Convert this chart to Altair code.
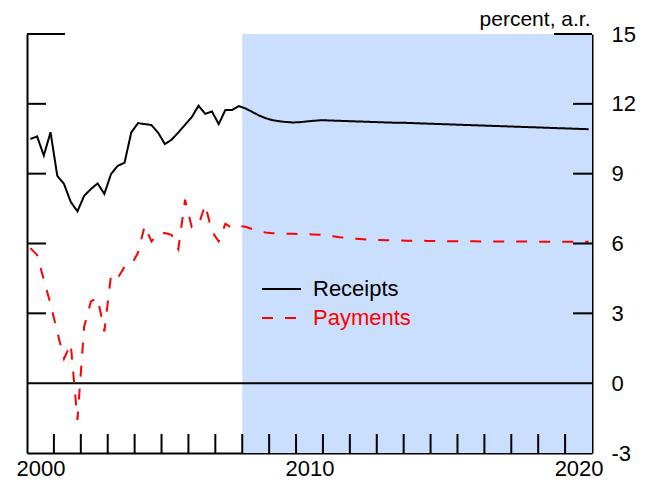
import altair as alt
import pandas as pd

# ---------------- data ----------------
years = list(range(2000, 2021))

receipts_hist = [10.49, 10.60, 9.78, 10.78, 8.91, 8.56, 7.79, 7.38,
                 8.05, 8.34, 8.58, 8.13, 8.99, 9.34, 9.47, 10.77,
                 11.17, 11.13, 11.09, 10.76, 10.27, 10.46, 10.77, 11.10,
                 11.43, 11.92, 11.57, 11.67, 11.13, 11.74, 11.74, 11.90]
receipts_proj = [11.80, 11.65, 11.50, 11.38, 11.30, 11.25, 11.22, 11.20,
                 11.21, 11.24, 11.27, 11.29, 11.29, 11.28, 11.27, 11.26,
                 11.25, 11.24, 11.23, 11.22, 11.21, 11.20, 11.19, 11.19,
                 11.18, 11.17, 11.16, 11.15, 11.14, 11.13, 11.12, 11.11,
                 11.10, 11.09, 11.08, 11.07, 11.06, 11.05, 11.04, 11.03,
                 11.02, 11.01, 11.00, 10.99, 10.98, 10.97, 10.96, 10.95,
                 10.94, 10.93, 10.92, 10.91]

payments_hist = [5.80, 5.51, 4.45, 3.40, 2.20, 1.05, 1.69, -1.58,
                 2.43, 3.51, 3.66, 2.22, 4.65, 4.52, 5.00, 5.08,
                 5.60, 6.76, 6.09, 6.42, 6.45, 6.37, 5.76, 7.88,
                 6.70, 6.80, 7.66, 6.51, 6.09, 6.85, 6.66, 6.75]
payments_proj = [6.72, 6.62, 6.53, 6.47, 6.44, 6.43, 6.42, 6.42,
                 6.41, 6.40, 6.39, 6.38, 6.35, 6.31, 6.27, 6.24,
                 6.21, 6.19, 6.17, 6.16, 6.15, 6.14, 6.13, 6.13,
                 6.12, 6.12, 6.12, 6.11, 6.11, 6.11, 6.10, 6.10,
                 6.10, 6.10, 6.10, 6.09, 6.09, 6.09, 6.09, 6.09,
                 6.09, 6.09, 6.08, 6.08, 6.08, 6.08, 6.08, 6.08,
                 6.08, 6.07, 6.07, 6.07]

series_names = ["Receipts", "Payments"]
series_colors = ["#000000", "#ff0000"]
series_dash = [[1, 0], [11, 12]]

proj_start = [2008.0]
proj_end = [2021.0]
x_domain = [2000, 2021]
y_domain = [-3, 15]
x_label_values = [2000, 2010, 2020]
x_minor_ticks = list(range(2001, 2021))
y_label_values = [-3, 0, 3, 6, 9, 12, 15]
y_inner_ticks = [3, 6, 9, 12]
y_top_tick = [15]
zero_line = [0]

# ---------------- tables ----------------
quarters = [y + (q - 0.5) / 4 for y in years for q in range(1, 5)]
receipts = receipts_hist + receipts_proj
payments = payments_hist + payments_proj
df = pd.DataFrame({
    "t": quarters * 2,
    "value": receipts + payments,
    "series": ["Receipts"] * len(quarters) + ["Payments"] * len(quarters),
})
shade_df = pd.DataFrame({"t": proj_start, "e": proj_end})
xt_df = pd.DataFrame({"t": x_minor_ticks})
yt_df = pd.DataFrame({"v": y_inner_ticks})
ytop_df = pd.DataFrame({"v": y_top_tick})
zero_df = pd.DataFrame({"v": zero_line})

W, H = 565, 419
FONT = "Liberation Sans"
FS = 22

xs = alt.Scale(domain=x_domain, nice=False, zero=False)
ys = alt.Scale(domain=y_domain, nice=False, zero=False)

x_axis = alt.Axis(
    values=x_label_values, labelExpr="datum.value + ''", labelOffset=13.5, ticks=False,
    domainColor="black", domainWidth=2, labelFontSize=FS, labelFont=FONT,
    labelColor="black", labelPadding=5, grid=False, title=None,
    labelFlush=False, labelOverlap=False)

leg = alt.Legend(
    title=None, orient="none", legendX=234, legendY=240.5, padding=0, offset=0,
    symbolType="stroke", symbolSize=1521, symbolStrokeWidth=2,
    labelFontSize=FS, labelFont=FONT, labelOffset=11, clipHeight=29, rowPadding=0,
    labelColor={"expr": "datum.label === 'Payments' ? '#ff0000' : '#000000'"},
)

shade = alt.Chart(shade_df).mark_rect(color="#CADFFD").encode(
    x=alt.X("t:Q", scale=xs, axis=x_axis),
    x2="e:Q",
)

zero = alt.Chart(zero_df).mark_rule(color="black", strokeWidth=2).encode(
    y=alt.Y("v:Q", scale=ys, axis=None)
)

lines = alt.Chart(df).mark_line(strokeWidth=2).encode(
    x=alt.X("t:Q", scale=xs, axis=x_axis),
    y=alt.Y("value:Q", scale=ys, axis=alt.Axis(
        orient="right", values=y_label_values, ticks=False,
        labelExpr="datum.value + ''",
        domainColor="black", domainWidth=2, labelFontSize=FS, labelFont=FONT,
        labelColor="black", labelAlign="left", labelPadding=19, grid=False,
        labelFlush=False, labelOverlap=False,
        title="percent, a.r.", titleAngle=0, titleAlign="right",
        titleBaseline="alphabetic", titleX=-2, titleY=-9, titleFontSize=21,
        titleFont=FONT, titleFontWeight="normal", titleColor="black")),
    color=alt.Color("series:N", scale=alt.Scale(domain=series_names, range=series_colors), legend=leg),
    strokeDash=alt.StrokeDash("series:N", scale=alt.Scale(domain=series_names, range=series_dash), legend=leg),
    detail="series:N",
)

left_ticks = alt.Chart(yt_df).mark_rule(color="black", strokeWidth=2).encode(
    y=alt.Y("v:Q", scale=ys, axis=alt.Axis(
        orient="left", labels=False, ticks=False, domainColor="black",
        domainWidth=2, grid=False, title=None)),
    x=alt.value(0), x2=alt.value(19),
)
right_ticks = alt.Chart(yt_df).mark_rule(color="black", strokeWidth=2).encode(
    y=alt.Y("v:Q", scale=ys, axis=None),
    x=alt.value(W), x2=alt.value(W - 19),
)
left_top = alt.Chart(ytop_df).mark_rule(color="black", strokeWidth=2).encode(
    y=alt.Y("v:Q", scale=ys, axis=None),
    x=alt.value(0), x2=alt.value(38),
)
right_top = alt.Chart(ytop_df).mark_rule(color="black", strokeWidth=2).encode(
    y=alt.Y("v:Q", scale=ys, axis=None),
    x=alt.value(W), x2=alt.value(W - 38),
)
bottom_ticks = alt.Chart(xt_df).mark_rule(color="black", strokeWidth=2).encode(
    x=alt.X("t:Q", scale=xs, axis=x_axis),
    y=alt.value(H), y2=alt.value(H - 19),
)

chart = alt.layer(
    shade, zero, lines, left_ticks, right_ticks, left_top, right_top, bottom_ticks
).resolve_axis(y="independent").properties(
    width=W, height=H,
    autosize=alt.AutoSizeParams(type="none"),
    padding={"left": 19, "top": 26, "right": 55, "bottom": 28},
).configure(font=FONT).configure_view(stroke=None)

chart.save("out.html", embed_options={"renderer": "svg", "actions": False})
